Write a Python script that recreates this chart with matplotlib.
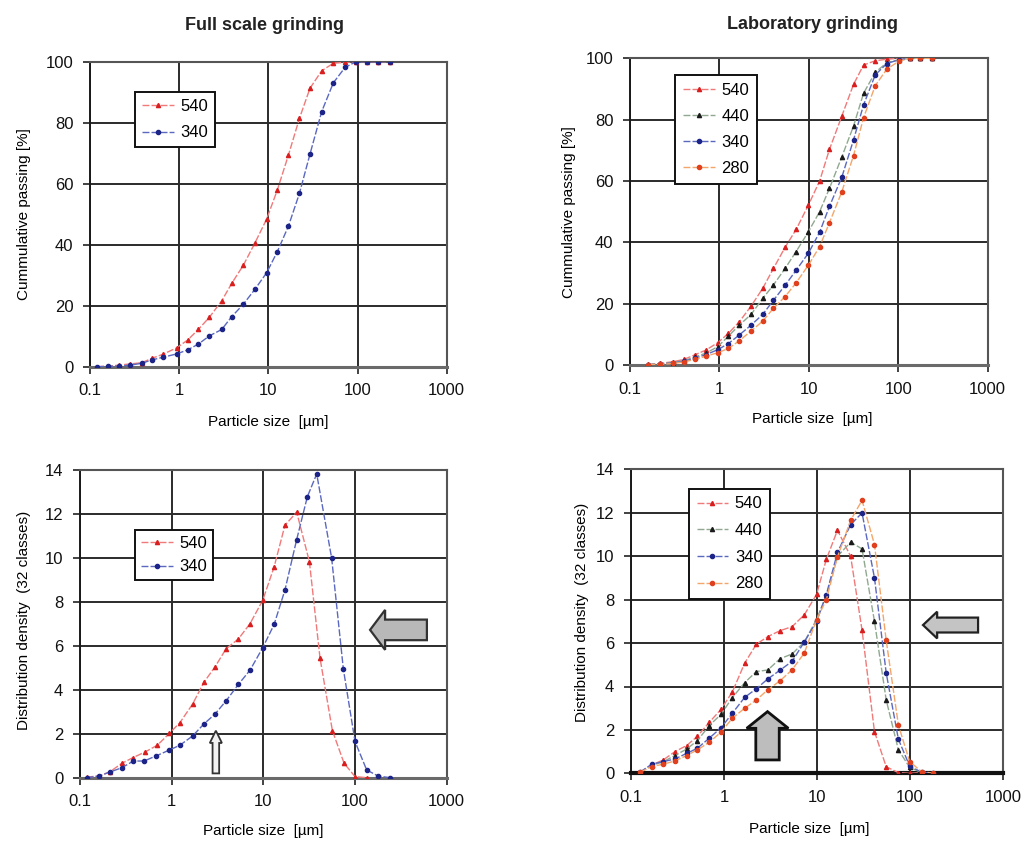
import matplotlib
matplotlib.use("Agg")
import matplotlib.pyplot as plt
from matplotlib.patches import Polygon
from matplotlib.ticker import NullLocator, FixedLocator, FixedFormatter

plt.rcParams['font.family'] = ['Liberation Sans', 'DejaVu Sans']

# ---------------- data ----------------
# Full scale grinding, cumulative passing [%]
fs_cum_size = [0.12, 0.16, 0.21, 0.28, 0.38, 0.49, 0.66, 0.94, 1.24, 1.64, 2.18, 3.0, 3.88,
               5.25, 7.08, 9.57, 12.6, 16.8, 22.3, 29.3, 39.6, 53.6, 72.4, 96, 127, 170, 230]
fs_cum_540 = [0, 0.2, 0.5, 0.9, 1.3, 2.7, 4.1, 6.2, 8.7, 12.2, 16.2, 21.6, 27.3,
              33.3, 40.6, 48.4, 57.9, 69.4, 81.4, 91.3, 97.0, 99.5, 99.8, 100, 100, 100, 100]
fs_cum_340 = [0, 0.1, 0.2, 0.5, 1.1, 2.2, 3.1, 4.2, 5.5, 7.4, 10.1, 12.2, 16.4,
              20.5, 25.4, 30.8, 37.7, 46.1, 56.8, 69.7, 83.6, 93.1, 98.1, 100, 100, 100, 100]

# Laboratory grinding, cumulative passing [%]
lab_cum_size = [0.16, 0.217, 0.305, 0.40, 0.53, 0.71, 0.96, 1.26, 1.67, 2.26, 3.05, 4.02, 5.43,
                7.21, 9.91, 13.2, 17.0, 23.4, 31.6, 40.9, 55.3, 74.6, 101, 134, 176, 238]
lab_cum_540 = [0.2, 0.5, 1.1, 1.8, 3.3, 4.9, 7.3, 10.3, 14.1, 19.2, 25.0, 31.5, 38.4,
               44.2, 52.2, 60.0, 70.3, 81.2, 91.5, 97.8, 99.2, 99.7, 100, 100, 100, 100]
lab_cum_440 = [0.1, 0.4, 0.8, 1.4, 2.6, 3.9, 6.0, 9.4, 13.0, 16.5, 21.7, 26.1, 31.5,
               37.0, 43.5, 50.0, 57.6, 67.9, 77.9, 88.6, 95.4, 98.6, 99.5, 100, 100, 100]
lab_cum_340 = [0.1, 0.3, 0.7, 1.2, 2.2, 3.4, 5.0, 7.0, 9.8, 13.0, 16.5, 21.1, 26.0,
               30.9, 36.5, 43.3, 51.7, 61.3, 73.4, 84.8, 94.6, 98.3, 99.5, 100, 100, 100]
lab_cum_280 = [0.1, 0.2, 0.5, 1.0, 1.8, 2.9, 4.0, 5.4, 7.9, 11.1, 14.3, 18.5, 22.3,
               26.8, 32.6, 38.6, 46.4, 56.5, 68.3, 80.6, 91.1, 96.5, 99.0, 100, 100, 100]

# Full scale grinding, distribution density (32 classes)
fs_den_size_540 = [0.118, 0.163, 0.212, 0.285, 0.376, 0.512, 0.698, 0.944, 1.23, 1.69, 2.25, 2.97,
                   3.92, 5.34, 7.16, 9.84, 13.1, 17.2, 23.1, 31.8, 41.5, 56.6, 75.9, 100, 134]
fs_den_540 = [0.03, 0.08, 0.27, 0.65, 0.91, 1.17, 1.48, 2.02, 2.51, 3.35, 4.35, 5.05,
              5.87, 6.32, 7.02, 8.08, 9.6, 11.5, 12.1, 9.84, 5.45, 2.15, 0.66, 0.05, 0.0]
fs_den_size_340 = [0.118, 0.163, 0.212, 0.285, 0.382, 0.499, 0.675, 0.944, 1.23, 1.69, 2.25, 2.97,
                   3.92, 5.34, 7.16, 9.84, 13.1, 17.2, 23.1, 30.2, 38.2, 55.6, 74.6, 100, 134, 178, 240]
fs_den_340 = [0.0, 0.08, 0.26, 0.45, 0.76, 0.76, 0.99, 1.26, 1.48, 1.9, 2.45, 2.9,
              3.5, 4.25, 4.9, 5.92, 6.98, 8.55, 10.85, 12.8, 13.84, 10.0, 4.95, 1.65, 0.35, 0.08, 0.0]

# Laboratory grinding, distribution density (32 classes)
lab_den_size = [0.125, 0.167, 0.223, 0.297, 0.397, 0.516, 0.695, 0.93, 1.23, 1.67, 2.23, 2.96, 4.0,
                5.4, 7.3, 9.9, 12.6, 16.6, 23, 30.5, 41.5, 55.5, 75, 99, 133, 178]
lab_den_540 = [0.05, 0.38, 0.62, 1.0, 1.28, 1.7, 2.35, 2.95, 3.75, 5.08, 5.95, 6.3, 6.57,
               6.76, 7.3, 8.25, 9.86, 11.2, 10.0, 6.6, 1.92, 0.3, 0.03, 0.0, 0.03, 0.0]
lab_den_440 = [0.05, 0.36, 0.54, 0.82, 1.12, 1.5, 2.2, 2.72, 3.49, 4.18, 4.69, 4.76, 5.28,
               5.5, 6.05, 7.1, 8.2, 10.0, 10.65, 10.34, 7.0, 3.38, 1.08, 0.28, 0.03, 0.0]
lab_den_340 = [0.05, 0.42, 0.54, 0.66, 0.92, 1.15, 1.62, 2.1, 2.77, 3.5, 3.9, 4.35, 4.75,
               5.16, 6.05, 7.0, 8.23, 10.18, 11.46, 12.0, 9.0, 4.62, 1.57, 0.34, 0.05, 0.0]
lab_den_280 = [0.05, 0.31, 0.42, 0.57, 0.82, 1.08, 1.43, 1.9, 2.54, 3.0, 3.38, 3.85, 4.26,
               4.77, 5.54, 7.08, 8.0, 9.97, 11.66, 12.58, 10.54, 6.12, 2.23, 0.54, 0.08, 0.0]

x_ticks = [0.1, 1, 10, 100, 1000]
x_tick_labels = ['0.1', '1', '10', '100', '1000']
cum_ticks = [0, 20, 40, 60, 80, 100]
den_ticks = [0, 2, 4, 6, 8, 10, 12, 14]

# series styles: (line colour, marker colour, marker)
STYLE = {
    '540': ('#f07a7a', '#d81e1e', '^'),
    '440': ('#8fa88f', '#1a1a1a', '^'),
    '340': ('#5a68c0', '#1c2488', 'o'),
    '280': ('#f4a56a', '#e0401e', 'o'),
}

fig = plt.figure(figsize=(10.26, 8.44), dpi=100)
W, H = 1026, 844


def make_axes(x0, x1, ytop, ybot):
    return fig.add_axes([x0 / W, 1 - ybot / H, (x1 - x0) / W, (ybot - ytop) / H])


ax_tl = make_axes(90, 446.7, 61.7, 366.7)
ax_tr = make_axes(630, 987.7, 58.3, 365)
ax_bl = make_axes(80, 446.7, 470.4, 777.7)
ax_br = make_axes(631, 1003, 469.5, 773.3)


def style_axes(ax, yticks, ymax):
    ax.set_xscale('log')
    ax.set_xlim(0.1, 1000)
    ax.set_ylim(0, ymax)
    ax.xaxis.set_major_locator(FixedLocator(x_ticks))
    ax.xaxis.set_major_formatter(FixedFormatter(x_tick_labels))
    ax.xaxis.set_minor_locator(NullLocator())
    ax.set_yticks(yticks)
    ax.grid(True, which='major', color='#2b2b2b', lw=1.4)
    ax.set_axisbelow(True)
    for s in ('top', 'right'):
        ax.spines[s].set_color('#555555')
        ax.spines[s].set_linewidth(1.5)
    ax.spines['left'].set_color('#1a1a1a')
    ax.spines['left'].set_linewidth(1.4)
    ax.spines['bottom'].set_color('#6a6a6a')
    ax.spines['bottom'].set_linewidth(2.2)
    ax.tick_params(axis='both', direction='out', length=5, width=1.2,
                   color='#222222', labelsize=12, pad=7, labelcolor='#111111')


def plot_series(ax, x, y, name):
    lc, mc, mk = STYLE[name]
    ax.plot(x, y, color=lc, lw=1.0, ls=(0, (5, 1.5)), marker=mk, ms=3.0,
            mfc=mc, mec=mc, label=name, zorder=3)


def add_legend(ax, x, y, ls, bp):
    leg = ax.legend(loc='upper left', bbox_to_anchor=(x, y), borderaxespad=0,
                    fontsize=12, handlelength=1.9, handletextpad=0.4,
                    labelspacing=ls, borderpad=bp, fancybox=False,
                    framealpha=1, edgecolor='#111111', facecolor='white')
    leg.get_frame().set_linewidth(1.4)


# top left: full scale cumulative
style_axes(ax_tl, cum_ticks, 100)
plot_series(ax_tl, fs_cum_size, fs_cum_540, '540')
plot_series(ax_tl, fs_cum_size, fs_cum_340, '340')
add_legend(ax_tl, 0.126, 0.90, 0.67, 0.42)
ax_tl.set_ylabel('Cummulative passing [%]', fontsize=11)
ax_tl.yaxis.set_label_coords(-0.165, 0.5)
ax_tl.set_xlabel('Particle size  [\u00b5m]', fontsize=11)
ax_tl.xaxis.set_label_coords(0.5, -0.158)
ax_tl.text(0.49, 1.12, 'Full scale grinding', transform=ax_tl.transAxes,
           ha='center', va='center', fontsize=13, fontweight='bold', color='#222222')

# top right: laboratory cumulative
style_axes(ax_tr, cum_ticks, 100)
plot_series(ax_tr, lab_cum_size, lab_cum_540, '540')
plot_series(ax_tr, lab_cum_size, lab_cum_440, '440')
plot_series(ax_tr, lab_cum_size, lab_cum_340, '340')
plot_series(ax_tr, lab_cum_size, lab_cum_280, '280')
add_legend(ax_tr, 0.126, 0.946, 0.67, 0.47)
ax_tr.set_ylabel('Cummulative passing [%]', fontsize=11)
ax_tr.yaxis.set_label_coords(-0.151, 0.5)
ax_tr.set_xlabel('Particle size  [\u00b5m]', fontsize=11)
ax_tr.xaxis.set_label_coords(0.51, -0.153)
ax_tr.text(0.509, 1.11, 'Laboratory grinding', transform=ax_tr.transAxes,
           ha='center', va='center', fontsize=13, fontweight='bold', color='#222222')

# bottom left: full scale density
style_axes(ax_bl, den_ticks, 14)
plot_series(ax_bl, fs_den_size_540, fs_den_540, '540')
plot_series(ax_bl, fs_den_size_340, fs_den_340, '340')
add_legend(ax_bl, 0.15, 0.806, 0.5, 0.36)
ax_bl.set_ylabel('Distribution density  (32 classes)', fontsize=11)
ax_bl.yaxis.set_label_coords(-0.133, 0.513)
ax_bl.set_xlabel('Particle size  [\u00b5m]', fontsize=11)
ax_bl.xaxis.set_label_coords(0.5, -0.151)

# bottom right: laboratory density
style_axes(ax_br, den_ticks, 14)
plot_series(ax_br, lab_den_size, lab_den_540, '540')
plot_series(ax_br, lab_den_size, lab_den_440, '440')
plot_series(ax_br, lab_den_size, lab_den_340, '340')
plot_series(ax_br, lab_den_size, lab_den_280, '280')
ax_br.spines['bottom'].set_color('#111111')
ax_br.spines['bottom'].set_linewidth(3.0)
add_legend(ax_br, 0.156, 0.936, 0.7, 0.45)
ax_br.set_ylabel('Distribution density  (32 classes)', fontsize=11)
ax_br.yaxis.set_label_coords(-0.113, 0.53)
ax_br.set_xlabel('Particle size  [\u00b5m]', fontsize=11)
ax_br.xaxis.set_label_coords(0.48, -0.16)


# block arrows, placed in axes-fraction coordinates
def left_arrow(ax, tip, base, tail, cy, head_h, shaft_h, fc, ec, lw):
    pts = [(tip, cy), (base, cy + head_h / 2), (base, cy + shaft_h / 2),
           (tail, cy + shaft_h / 2), (tail, cy - shaft_h / 2),
           (base, cy - shaft_h / 2), (base, cy - head_h / 2)]
    ax.add_patch(Polygon(pts, closed=True, transform=ax.transAxes, fc=fc,
                         ec=ec, lw=lw, zorder=5, joinstyle='miter'))


def up_arrow(ax, cx, tip, base, bottom, head_w, shaft_w, fc, ec, lw):
    pts = [(cx, tip), (cx + head_w / 2, base), (cx + shaft_w / 2, base),
           (cx + shaft_w / 2, bottom), (cx - shaft_w / 2, bottom),
           (cx - shaft_w / 2, base), (cx - head_w / 2, base)]
    ax.add_patch(Polygon(pts, closed=True, transform=ax.transAxes, fc=fc,
                         ec=ec, lw=lw, zorder=5, joinstyle='miter'))


up_arrow(ax_bl, 0.3705, 0.153, 0.113, 0.014, 0.033, 0.018, '#f2f2f2', '#333333', 1.3)
left_arrow(ax_bl, 0.791, 0.832, 0.946, 0.481, 0.13, 0.067, '#b8b8b8', '#333333', 1.6)
left_arrow(ax_br, 0.785, 0.823, 0.933, 0.488, 0.088, 0.049, '#c4c4c4', '#222222', 1.6)
up_arrow(ax_br, 0.367, 0.203, 0.148, 0.044, 0.112, 0.063, '#bdbdbd', '#111111', 2.0)

fig.savefig('out.png', dpi=100, facecolor='white')
